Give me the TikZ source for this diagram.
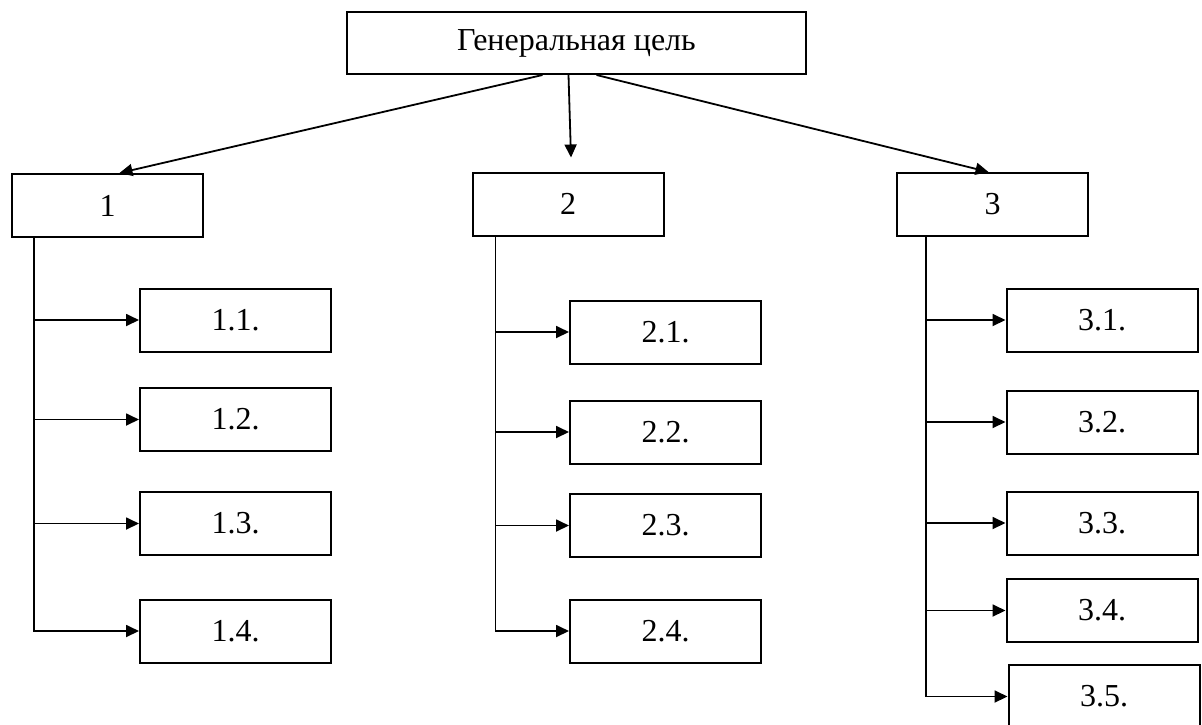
\documentclass[tikz,border=0pt]{standalone}
\usepackage{fontspec}
\setmainfont{Liberation Serif}
\usetikzlibrary{arrows.meta}

\begin{document}
\begin{tikzpicture}[
  x=0.5pt,y=-0.5pt,
  >={Triangle[length=6.5pt,width=6pt]},
  font=\fontsize{16}{19}\selectfont,
  box/.style={draw,line width=1pt,minimum width=95.5pt,minimum height=31.5pt,inner sep=0pt},
  link/.style={line width=0.9pt}
]
  \useasboundingbox (0,0) rectangle (1202,724);

  % Top level: the general goal and its three branches.
  \node[box,minimum width=229.5pt,minimum height=31pt] (goal) at (576.5,43) {Генеральная цель};
  \node[box] (b1) at (107.5,205.5) {1};
  \node[box] (b2) at (568,204) {2};
  \node[box] (b3) at (992.5,204.5) {3};
  \draw[link,->] ([xshift=-17pt]goal.south) -- ([xshift=6pt]b1.north);
  \draw[link,->] ([xshift=-4pt]goal.south) -- ([xshift=1.5pt,yshift=7pt]b2.north);
  \draw[link,->] ([xshift=10pt]goal.south) -- ([xshift=-2pt]b3.north);

  % Branch 1
  \node[box] (b11) at (235.5,320) {1.1.};
  \node[box] (b12) at (235.5,419.5) {1.2.};
  \node[box] (b13) at (235.5,523.5) {1.3.};
  \node[box] (b14) at (235.5,631) {1.4.};
  \coordinate (t1) at ([xshift=11.5pt]b1.south west);
  \draw[link,->] (t1) |- (b14);
  \foreach \n in {1,2,3}
    \draw[link,->] (t1 |- b1\n.west) -- (b1\n.west);

  % Branch 2
  \node[box] (b21) at (665.5,332) {2.1.};
  \node[box] (b22) at (665.5,432) {2.2.};
  \node[box] (b23) at (665.5,525.5) {2.3.};
  \node[box] (b24) at (665.5,631) {2.4.};
  \coordinate (t2) at ([xshift=12pt]b2.south west);
  \draw[link,->] (t2) |- (b24);
  \foreach \n in {1,2,3}
    \draw[link,->] (t2 |- b2\n.west) -- (b2\n.west);

  % Branch 3 (last box runs past the lower edge)
  \node[box] (b31) at (1102,320) {3.1.};
  \node[box] (b32) at (1102,422) {3.2.};
  \node[box] (b33) at (1102,523) {3.3.};
  \node[box] (b34) at (1102,610.5) {3.4.};
  \node[box] (b35) at (1104,696.5) {3.5.};
  \coordinate (t3) at ([xshift=15pt]b3.south west);
  \draw[link,->] (t3) |- (b35);
  \foreach \n in {1,2,3,4}
    \draw[link,->] (t3 |- b3\n.west) -- (b3\n.west);
\end{tikzpicture}
\end{document}
